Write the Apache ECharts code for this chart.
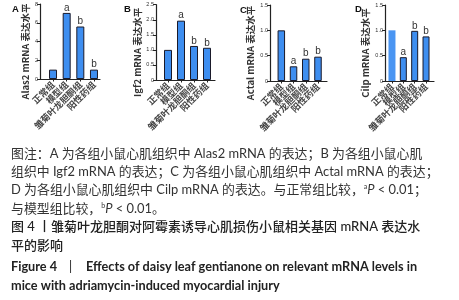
<!DOCTYPE html>
<html><head><meta charset="utf-8">
<script src="https://cdn.jsdelivr.net/npm/echarts@6/dist/echarts.min.js"></script>
<style>html,body{margin:0;padding:0;background:#fff}#c{width:459px;height:300px}</style>
</head><body><div id="c"></div>
<script>
const categories = ['正常组', '模型组', '雏菊叶龙胆酮组', '阳性药组'];
const alas2 = [1.0, 7.05, 5.6, 1.0];
const igf2 = [1.0, 1.97, 1.13, 1.07];
const actal = [1.0, 0.29, 0.44, 0.48];
const cilp = [1.0, 0.47, 0.99, 0.88];
const sigLetters = ['', 'a', 'b', 'b'];
const panelLetters = ['A', 'B', 'C', 'D'];
const yNames = ['Alas2 mRNA 表达水平', 'Igf2 mRNA 表达水平', 'Actal mRNA 表达水平', 'Cilp mRNA 表达水平'];
const yMax = [8, 2.5, 1.5, 1.5];
const yStep = [2, 0.5, 0.5, 0.5];
const captionLines = [
  '图注：A 为各组小鼠心肌组织中 Alas2 mRNA 的表达；B 为各组小鼠心肌',
  '组织中 Igf2 mRNA 的表达；C 为各组小鼠心肌组织中 Actal mRNA 的表达；',
  'D 为各组小鼠心肌组织中 Cilp mRNA 的表达。与正常组比较，{sup|a}{it|P} < 0.01；',
  '与模型组比较，{sup|b}{it|P} < 0.01。'
];
const titleCn = ['图 4 丨雏菊叶龙胆酮对阿霉素诱导心肌损伤小鼠相关基因 mRNA 表达水', '平的影响'];
const titleEnHead = ['Figure 4', '|'];
const titleEn = ['Effects of daisy leaf gentianone on relevant mRNA levels in', 'mice with adriamycin-induced myocardial injury'];

const seriesData = [alas2, igf2, actal, cilp];
const outer = [
  {l: 40, r: 100, t: 4, b: 79},
  {l: 156, r: 215, t: 4.7, b: 80},
  {l: 270, r: 327, t: 5, b: 81},
  {l: 385, r: 434, t: 5, b: 81}
];
const inner = [
  {l: 46.2, r: 100.8}, {l: 161.5, r: 213.5}, {l: 275.2, r: 324.1}, {l: 386.3, r: 431.7}
];
const barW = [8, 8, 7.5, 7];
const nameGap = [10, 14, 15, 15];
const letterPos = [[16, 10], [128, 10], [244, 11], [359, 10]];
const blue = '#3e8ef0';
const FONT = '"Noto Sans CJK SC", "Noto Sans", sans-serif';

const grids = [], xAxes = [], yAxes = [], series = [], graphics = [];
for (let i = 0; i < 4; i++) {
  const o = outer[i], n = inner[i];
  grids.push({left: o.l, top: o.t, width: o.r - o.l, height: o.b - o.t});
  xAxes.push({type: 'value', gridIndex: 2 * i, min: 0, max: 1,
    axisLine: {show: true, onZero: false, lineStyle: {color: '#222', width: 1.2}},
    axisTick: {show: false}, axisLabel: {show: false}, splitLine: {show: false}});
  yAxes.push({type: 'value', gridIndex: 2 * i, min: 0, max: yMax[i], interval: yStep[i],
    axisLine: {show: true, lineStyle: {color: '#222', width: 1.2}},
    axisTick: {show: true, length: 3, lineStyle: {color: '#222'}},
    axisLabel: {fontSize: 5.5, color: '#333', margin: 2, fontFamily: 'Liberation Sans',
      formatter: v => (v === 0 ? '0' : (yStep[i] < 1 ? v.toFixed(1) : String(v)))},
    splitLine: {show: false},
    name: yNames[i], nameLocation: 'middle', nameRotate: 90, nameGap: nameGap[i],
    nameTextStyle: {fontSize: 9.5, fontWeight: 'bold', color: '#333', fontFamily: FONT, padding: [0, 20, 0, 0]}});
  grids.push({left: n.l, top: o.t, width: n.r - n.l, height: o.b - o.t});
  xAxes.push({type: 'category', gridIndex: 2 * i + 1, data: categories,
    axisLine: {show: false},
    axisTick: {show: true, alignWithLabel: true, length: 2.5, lineStyle: {color: '#222'}},
    axisLabel: {rotate: 45, fontSize: 9, fontWeight: 'bold', color: '#444', margin: 4, interval: 0, fontFamily: FONT}});
  yAxes.push({type: 'value', gridIndex: 2 * i + 1, min: 0, max: yMax[i], show: false});
  series.push({type: 'bar', xAxisIndex: 2 * i + 1, yAxisIndex: 2 * i + 1, barWidth: barW[i],
    data: seriesData[i].map((v, k) => ({value: v,
      itemStyle: (i === 3 && k === 0) ? {color: '#4a95f2', borderWidth: 0} : {color: blue, borderColor: '#1a1a2a', borderWidth: 1}})),
    label: {show: true, position: 'top', distance: 0, fontSize: 10, color: '#333', fontFamily: 'Liberation Sans',
      formatter: p => sigLetters[p.dataIndex]},
    silent: true, animation: false});
  graphics.push({type: 'text', left: letterPos[i][0] - 4, top: letterPos[i][1] - 6,
    style: {text: panelLetters[i], font: 'bold 9.5px "Liberation Sans"', fill: '#111'}});
}

const capStyleRich = {
  sup: {fontSize: 7, verticalAlign: 'top', padding: [0, 0, 6, 0], fill: '#333', fontFamily: 'Lato'},
  it: {fontStyle: 'italic', fontSize: 12.9, fill: '#333', fontFamily: 'Lato'}
};
const capY = [155, 173, 191, 210];
captionLines.forEach((t, k) => {
  graphics.push({type: 'text', left: 11, top: capY[k] - 8,
    style: {text: t, font: '12.9px Lato, "Noto Sans CJK SC"', fill: '#333', rich: capStyleRich}});
});
const tY = [228, 247];
titleCn.forEach((t, k) => {
  graphics.push({type: 'text', left: 11, top: tY[k] - 8,
    style: {text: t, font: '500 13px Lato, "Noto Sans CJK SC"', fill: '#222'}});
});
graphics.push({type: 'text', left: 11, top: 268 - 8,
  style: {text: titleEnHead[0], font: 'bold 12.7px Lato', fill: '#222'}});
graphics.push({type: 'text', left: 69, top: 268 - 8,
  style: {text: titleEnHead[1], font: '12.7px Lato', fill: '#222'}});
const eX = [86, 11], eY = [268, 287];
titleEn.forEach((t, k) => {
  graphics.push({type: 'text', left: eX[k], top: eY[k] - 8,
    style: {text: t, font: 'bold 12.7px Lato', fill: '#222'}});
});

const chart = echarts.init(document.getElementById('c'));
chart.setOption({animation: false, grid: grids, xAxis: xAxes, yAxis: yAxes, series: series, graphic: graphics});
</script></body></html>
